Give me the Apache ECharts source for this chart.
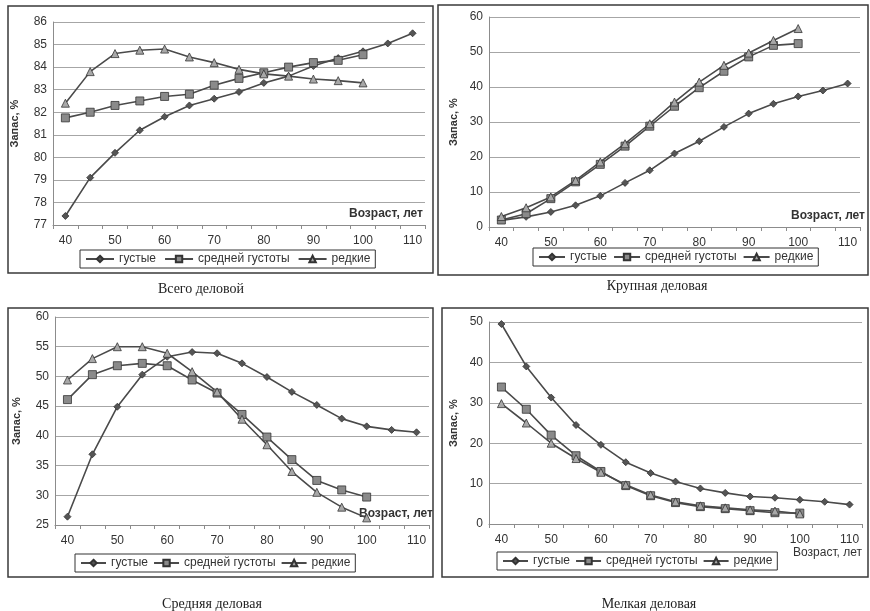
<!DOCTYPE html>
<html><head><meta charset="utf-8">
<script src="https://cdn.jsdelivr.net/npm/echarts@6/dist/echarts.min.js"></script>
<style>html,body{margin:0;padding:0;background:#fff}#c{width:870px;height:611px}</style>
</head><body><div id="c"></div>
<script>
// ---- data ----
const ages = ['40','45','50','55','60','65','70','75','80','85','90','95','100','105','110'];
const seriesNames = ['густые','средней густоты','редкие'];
const panelTitles = ['Всего деловой','Крупная деловая','Средняя деловая','Мелкая деловая'];
const yAxisTitle = 'Запас, %';
const xAxisTitle = 'Возраст, лет';
// [min, max, step] of the value axes
const yRange1 = [77, 86, 1];
const yRange2 = [0, 60, 10];
const yRange3 = [25, 60, 5];
const yRange4 = [0, 50, 10];

// Всего деловой
const totalDense  = [77.4, 79.1, 80.2, 81.2, 81.8, 82.3, 82.6, 82.9, 83.3, 83.6, 84.05, 84.4, 84.7, 85.05, 85.5];
const totalMedium = [81.75, 82.0, 82.3, 82.5, 82.7, 82.8, 83.2, 83.5, 83.75, 84.0, 84.2, 84.3, 84.55];
const totalSparse = [82.4, 83.8, 84.6, 84.75, 84.8, 84.45, 84.2, 83.9, 83.7, 83.6, 83.47, 83.4, 83.3];
// Крупная деловая
const largeDense  = [1.9, 2.9, 4.3, 6.2, 8.9, 12.6, 16.2, 21.0, 24.5, 28.6, 32.4, 35.2, 37.3, 39.0, 41.0];
const largeMedium = [2.0, 3.8, 8.1, 12.9, 17.9, 23.1, 28.8, 34.5, 39.8, 44.5, 48.6, 51.9, 52.4];
const largeSparse = [3.0, 5.5, 8.6, 13.3, 18.6, 23.8, 29.5, 35.7, 41.4, 46.2, 49.7, 53.3, 56.7];
// Средняя деловая
const midDense  = [26.4, 36.9, 44.9, 50.3, 53.3, 54.1, 53.9, 52.2, 49.9, 47.4, 45.2, 42.9, 41.6, 41.0, 40.6];
const midMedium = [46.1, 50.3, 51.8, 52.2, 51.8, 49.4, 47.2, 43.6, 39.8, 36.0, 32.5, 30.9, 29.7];
const midSparse = [49.4, 53.0, 55.0, 55.0, 53.9, 50.8, 47.4, 42.8, 38.5, 34.0, 30.5, 28.0, 26.2];
// Мелкая деловая
const smallDense  = [49.5, 39.0, 31.3, 24.5, 19.6, 15.3, 12.6, 10.5, 8.8, 7.7, 6.8, 6.5, 6.0, 5.5, 4.8];
const smallMedium = [33.9, 28.4, 22.0, 16.9, 13.0, 9.5, 7.0, 5.3, 4.3, 3.8, 3.3, 2.8, 2.7];
const smallSparse = [29.8, 25.0, 20.0, 16.2, 12.8, 9.7, 7.2, 5.5, 4.5, 4.0, 3.5, 3.2, 2.5];

// ---- layout / styles ----
const panels = [
  {vals:[totalDense,totalMedium,totalSparse], range:yRange1, title:panelTitles[0],
   grid:{left:53, top:22, width:372, height:203}, frame:[8,6,425,267],
   legend:{left:80, top:250, itemWidth:28, itemGap:8}, titlePos:[201,289], xnameInside:true, xnameGap:-2, ynameGap:33},
  {vals:[largeDense,largeMedium,largeSparse], range:yRange2, title:panelTitles[1],
   grid:{left:489, top:17, width:371, height:210}, frame:[438,5,430,270],
   legend:{left:533, top:248, itemWidth:26, itemGap:6}, titlePos:[657,286], xnameInside:true, xnameGap:5, ynameGap:30},
  {vals:[midDense,midMedium,midSparse], range:yRange3, title:panelTitles[2],
   grid:{left:55, top:317, width:374, height:208}, frame:[8,308,425,269],
   legend:{left:75, top:554, itemWidth:25, itemGap:5}, titlePos:[212,604], xnameInside:true, xnameGap:4, ynameGap:33},
  {vals:[smallDense,smallMedium,smallSparse], range:yRange4, title:panelTitles[3],
   grid:{left:489, top:322, width:373, height:202}, frame:[442,308,426,269],
   legend:{left:497, top:552, itemWidth:25, itemGap:5}, titlePos:[649,604], xnameInside:false, xnamePos:[862,553], ynameGap:30}
];
const symbols = ['diamond','rect','triangle'];
const symbolSizes = [7, 8, 8];
const fillColors = ['#555','#8a8a8a','#a8a8a8'];
const labelFont = 'Liberation Sans';

const option = {
  backgroundColor:'#fff',
  animation:false,
  grid:[], xAxis:[], yAxis:[], series:[], legend:[], graphic:[]
};

panels.forEach((p, i) => {
  option.grid.push(Object.assign({containLabel:false, outerBoundsMode:'none'}, p.grid));
  const xa = {
    type:'category', gridIndex:i, data:ages, boundaryGap:true,
    axisLine:{show:true, lineStyle:{color:'#8c8c8c', width:1}},
    axisTick:{show:true, interval:0, length:4, inside:false, lineStyle:{color:'#8c8c8c'}},
    axisLabel:{interval:1, color:'#333', fontSize:12, fontFamily:labelFont, margin:10},
    splitLine:{show:false}
  };
  if (p.xnameInside) {
    Object.assign(xa, {
      name: xAxisTitle, nameLocation:'end', nameGap:p.xnameGap,
      nameTextStyle:{align:'right', verticalAlign:'bottom', padding:[0,0,5,0], fontWeight:'bold', fontSize:12, color:'#333', fontFamily:labelFont}
    });
  } else {
    option.graphic.push({
      type:'text', x:p.xnamePos[0], y:p.xnamePos[1],
      style:{text:xAxisTitle, textAlign:'right', textVerticalAlign:'middle',
             font:'12px "Liberation Sans"', fill:'#333'}
    });
  }
  option.xAxis.push(xa);
  option.yAxis.push({
    type:'value', gridIndex:i, min:p.range[0], max:p.range[1], interval:p.range[2],
    name: yAxisTitle, nameLocation:'middle', nameRotate:90, nameGap:p.ynameGap,
    nameTextStyle:{fontWeight:'bold', fontSize:11, color:'#333', fontFamily:labelFont},
    axisLine:{show:true, lineStyle:{color:'#8c8c8c', width:1}},
    axisTick:{show:false},
    axisLabel:{color:'#333', fontSize:12, fontFamily:labelFont, margin:6},
    splitLine:{show:true, lineStyle:{color:'#a6a6a6', width:1}}
  });
  p.vals.forEach((arr, k) => {
    option.series.push({
      type:'line', name:seriesNames[k], xAxisIndex:i, yAxisIndex:i, data:arr,
      symbol:symbols[k], symbolSize:symbolSizes[k], showAllSymbol:true,
      lineStyle:{color:'#4a4a4a', width:1.6},
      itemStyle:{color:fillColors[k], borderColor:'#333', borderWidth:0.8},
      emphasis:{disabled:true}
    });
  });
  option.legend.push({
    left:p.legend.left, top:p.legend.top, orient:'horizontal',
    data:seriesNames, itemWidth:p.legend.itemWidth, itemHeight:8, itemGap:p.legend.itemGap,
    borderColor:'#333', borderWidth:1, padding:[3,5],
    textStyle:{fontSize:12, color:'#333', fontFamily:labelFont}
  });
  option.graphic.push({
    type:'rect', z:-1, shape:{x:p.frame[0], y:p.frame[1], width:p.frame[2], height:p.frame[3]},
    style:{fill:null, stroke:'#3a3a3a', lineWidth:1.5}
  });
  option.graphic.push({
    type:'text', x:p.titlePos[0], y:p.titlePos[1],
    style:{text:p.title, textAlign:'center', textVerticalAlign:'middle',
           font:'14px "Liberation Serif"', fill:'#222'}
  });
});

const chart = echarts.init(document.getElementById('c'), null, {renderer:'canvas'});
chart.setOption(option);
</script>
</body></html>
